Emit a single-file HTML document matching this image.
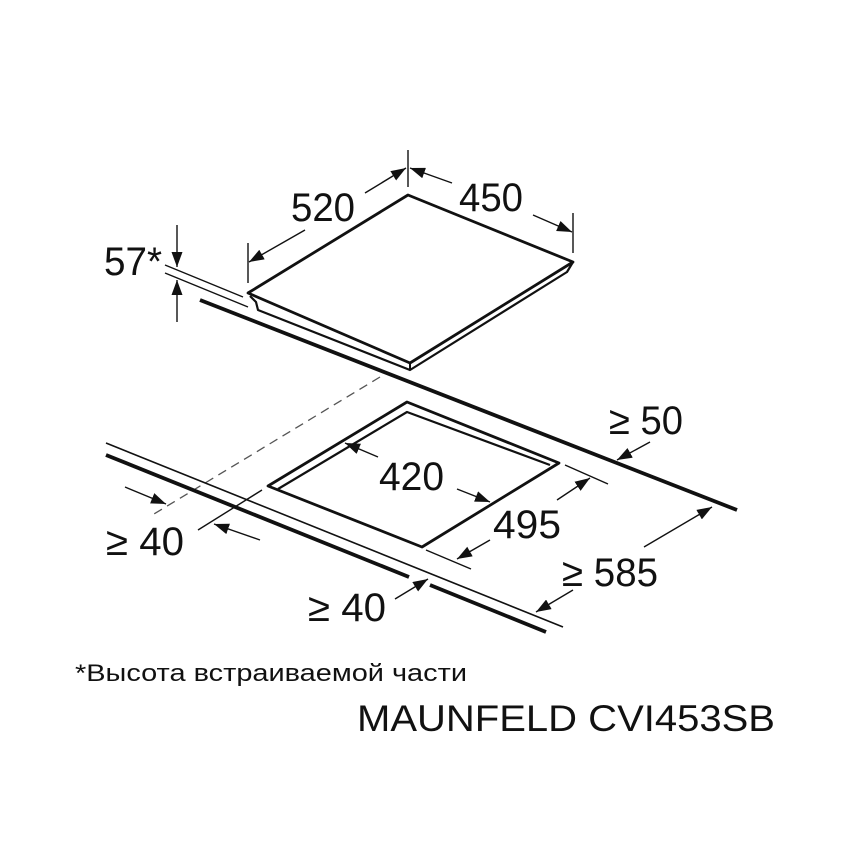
<!DOCTYPE html>
<html><head><meta charset="utf-8"><style>
html,body{margin:0;padding:0;background:#fff;}
svg{display:block}
text{font-family:"Liberation Sans","DejaVu Sans",sans-serif;fill:#111}
</style></head><body>
<svg width="850" height="850" viewBox="0 0 850 850" xmlns="http://www.w3.org/2000/svg">
<defs>
<marker id="a" viewBox="0 0 15 11" refX="15" refY="5.5" markerWidth="15" markerHeight="11" markerUnits="userSpaceOnUse" orient="auto">
<path d="M0,0 L15,5.5 L0,11 z" fill="#111"/></marker>
</defs>
<g stroke="#111" fill="none" stroke-linejoin="round">
<!-- hob top -->
<polygon points="248,293 408,195 573,262 410,363" stroke-width="2.8"/>
<polyline points="250,296 256,302 258,310 410,370 567,272 573,262" stroke-width="2.2"/>
<line x1="410" y1="363" x2="410" y2="370" stroke-width="2"/>
<!-- dims top -->
<g stroke-width="1.4">
<line x1="408" y1="150" x2="408" y2="187"/>
<line x1="248" y1="243" x2="248" y2="283"/>
<line x1="573" y1="213" x2="573" y2="253"/>
<line x1="365" y1="193" x2="406" y2="168" marker-end="url(#a)"/>
<line x1="305" y1="230" x2="249" y2="262" marker-end="url(#a)"/>
<line x1="452" y1="183" x2="410" y2="168" marker-end="url(#a)"/>
<line x1="533" y1="215" x2="572" y2="232" marker-end="url(#a)"/>
<line x1="177" y1="225" x2="177" y2="267" marker-end="url(#a)"/>
<line x1="177" y1="322" x2="177" y2="280" marker-end="url(#a)"/>
<line x1="165" y1="265" x2="243" y2="297"/>
<line x1="165" y1="273" x2="248" y2="307"/>
</g>
<!-- back counter -->
<line x1="200" y1="300" x2="737" y2="510" stroke-width="3.8"/>
<!-- dashed -->
<line x1="380" y1="377" x2="154" y2="514" stroke-width="1.3" stroke-dasharray="9,6" stroke="#555"/>
<!-- front counter -->
<line x1="106" y1="443" x2="563" y2="627" stroke-width="1.6"/>
<line x1="106" y1="455" x2="409" y2="577" stroke-width="3.8"/>
<line x1="430" y1="585" x2="546" y2="632" stroke-width="3.8"/>
<!-- cutout -->
<polygon points="407,402 559,463 422,547 268,486" stroke-width="2.8"/>
<polyline points="278,489 407,412 550,465" stroke-width="2.2"/>
<!-- bottom dims -->
<g stroke-width="1.4">
<line x1="198" y1="530" x2="262" y2="490"/>
<line x1="125" y1="487" x2="166" y2="504" marker-end="url(#a)"/>
<line x1="260" y1="540" x2="214" y2="524" marker-end="url(#a)"/>
<line x1="378" y1="457" x2="345" y2="443" marker-end="url(#a)"/>
<line x1="457" y1="489" x2="490" y2="502" marker-end="url(#a)"/>
<line x1="565" y1="465" x2="608" y2="484"/>
<line x1="426" y1="550" x2="471" y2="569"/>
<line x1="557" y1="500" x2="590" y2="478" marker-end="url(#a)"/>
<line x1="490" y1="540" x2="457" y2="559" marker-end="url(#a)"/>
<line x1="650" y1="442" x2="617" y2="460" marker-end="url(#a)"/>
<line x1="644" y1="547" x2="712" y2="507" marker-end="url(#a)"/>
<line x1="573" y1="590" x2="536" y2="612" marker-end="url(#a)"/>
<line x1="395" y1="599" x2="428" y2="579" marker-end="url(#a)"/>
</g>
</g>
<g font-size="40" lengthAdjust="spacingAndGlyphs">
<text x="291" y="221" textLength="64" lengthAdjust="spacingAndGlyphs">520</text>
<text x="459" y="211" textLength="64" lengthAdjust="spacingAndGlyphs">450</text>
<text x="104" y="275" textLength="58" lengthAdjust="spacingAndGlyphs">57*</text>
<text x="609" y="434" textLength="74" lengthAdjust="spacingAndGlyphs">≥ 50</text>
<text x="379" y="490" textLength="65" lengthAdjust="spacingAndGlyphs">420</text>
<text x="493" y="538" textLength="68" lengthAdjust="spacingAndGlyphs">495</text>
<text x="106" y="555" textLength="78" lengthAdjust="spacingAndGlyphs">≥ 40</text>
<text x="562" y="586" textLength="96" lengthAdjust="spacingAndGlyphs">≥ 585</text>
<text x="308" y="621" textLength="78" lengthAdjust="spacingAndGlyphs">≥ 40</text>
</g>
<text x="75" y="681" font-size="24" textLength="392" lengthAdjust="spacingAndGlyphs">*Высота встраиваемой части</text>
<text x="357" y="731" font-size="37" textLength="418" lengthAdjust="spacingAndGlyphs">MAUNFELD CVI453SB</text>
</svg>
</body></html>
